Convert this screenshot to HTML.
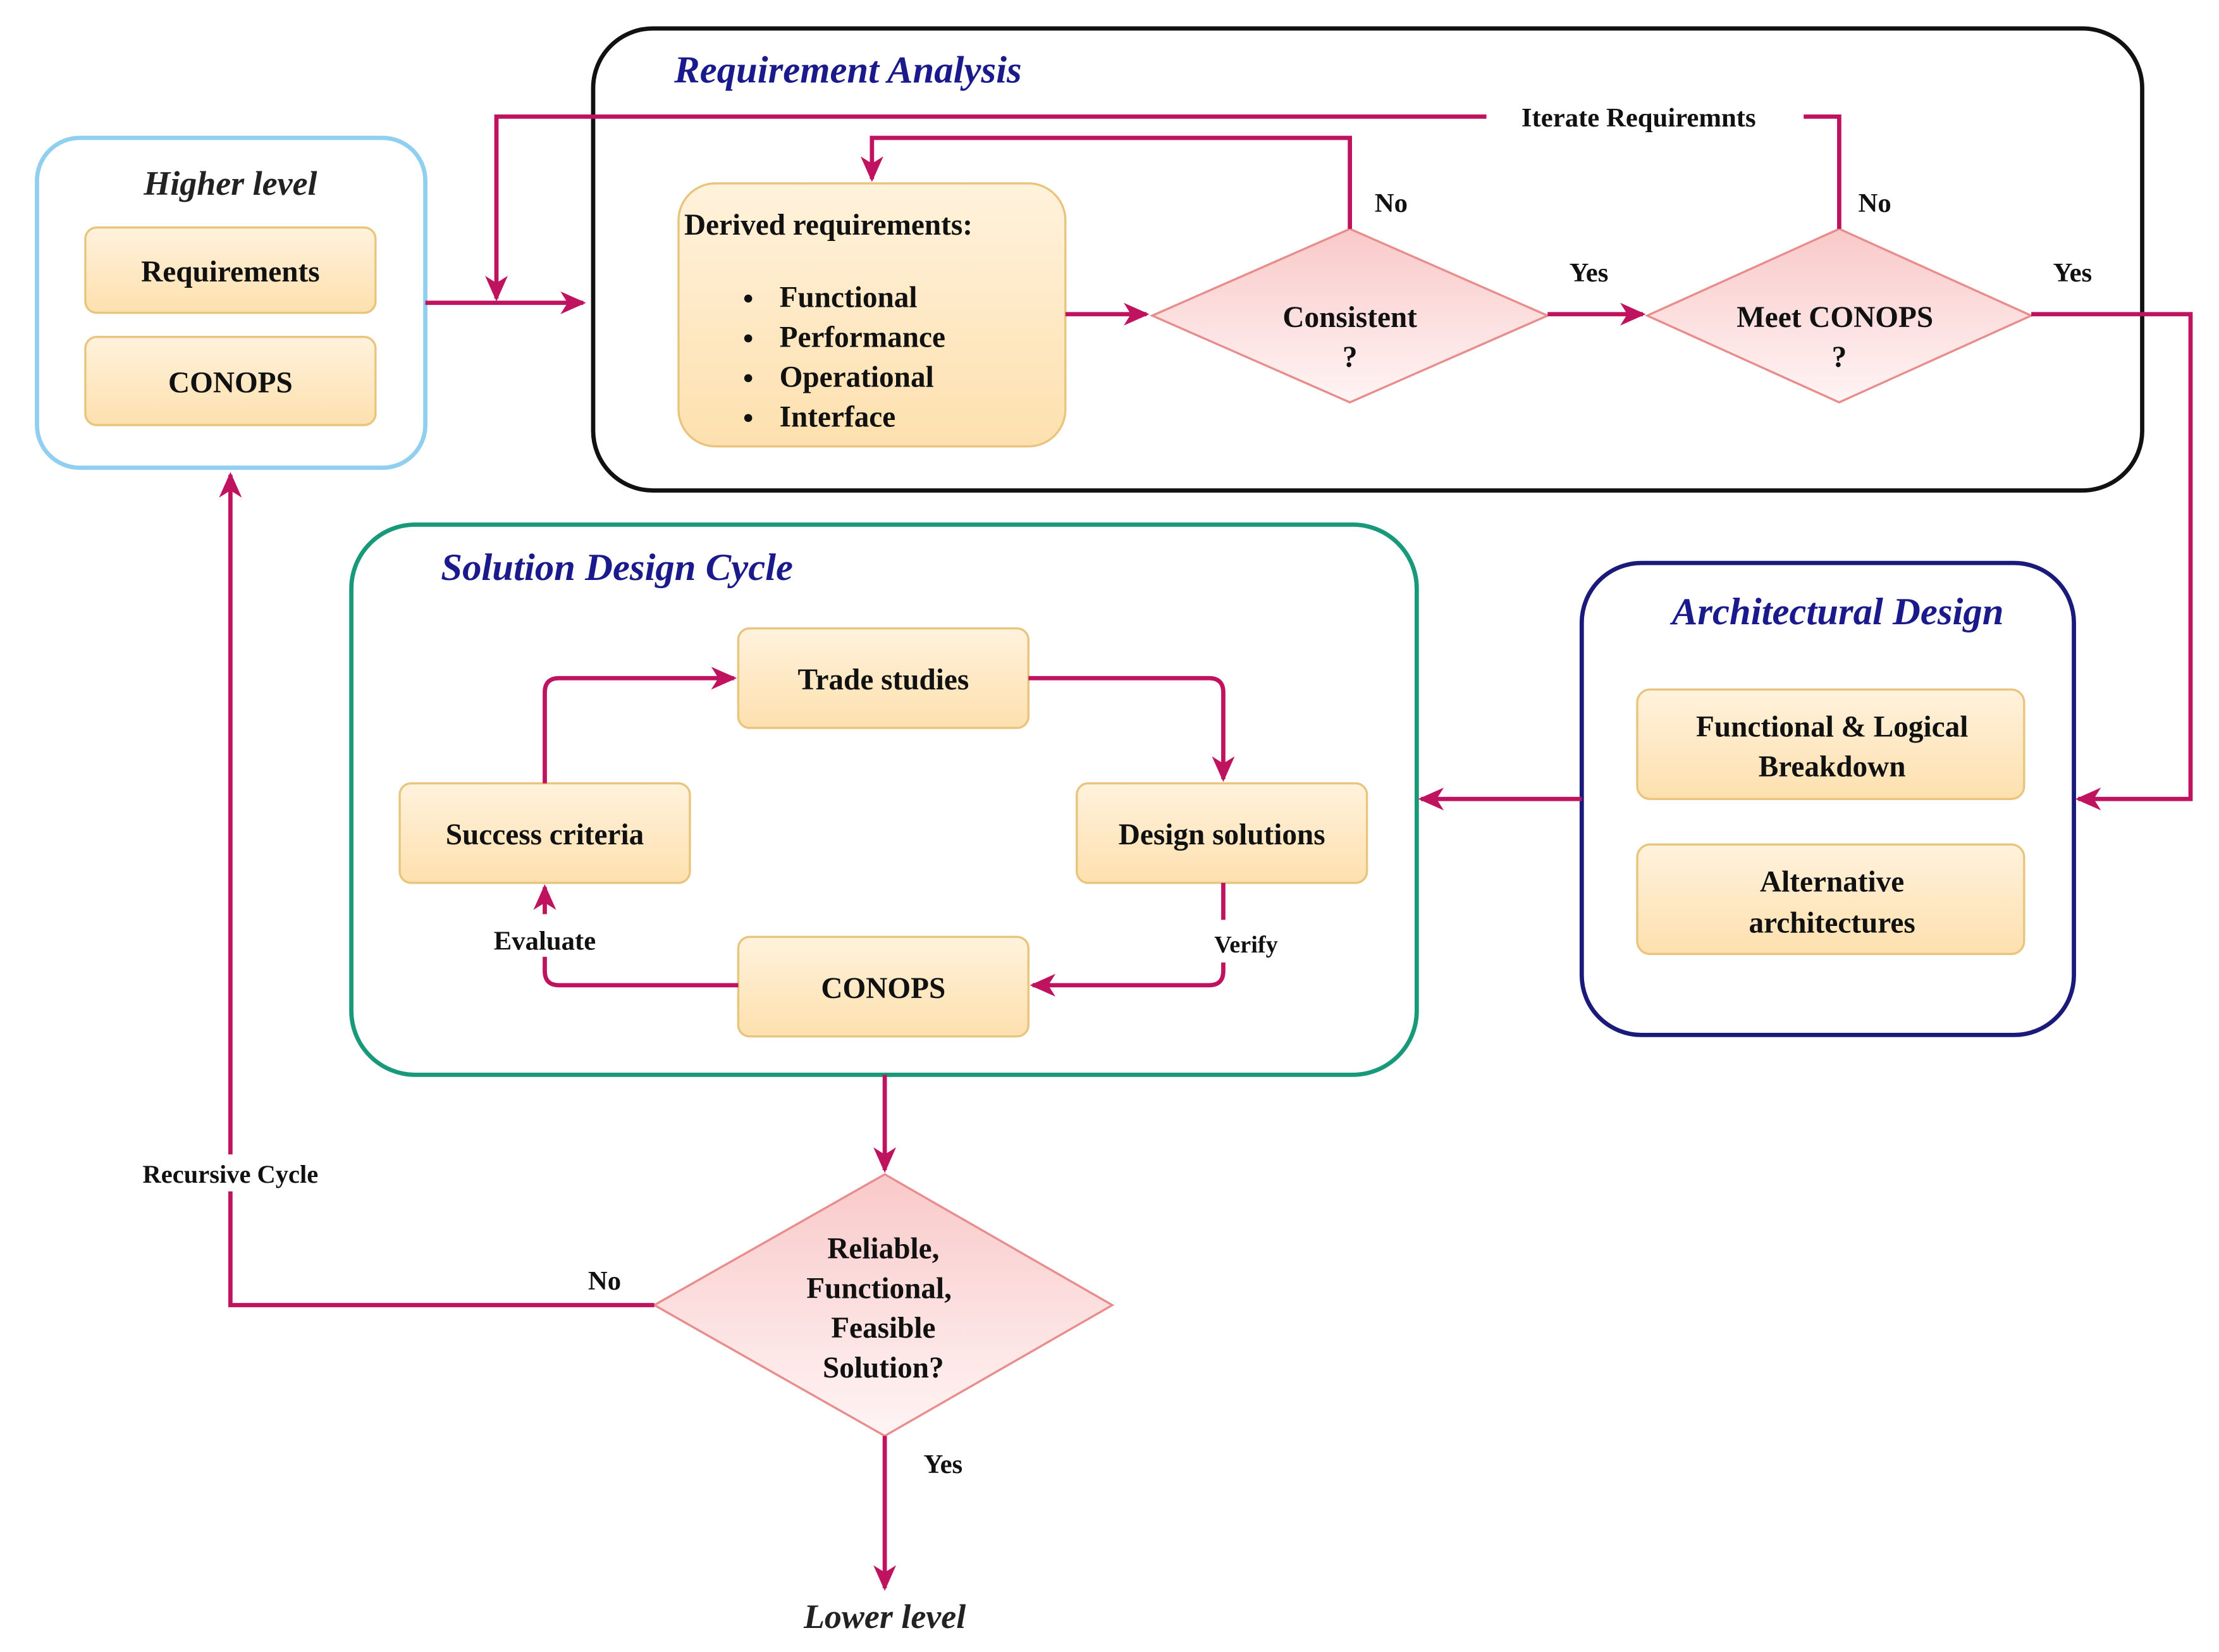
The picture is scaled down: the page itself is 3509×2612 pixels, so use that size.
<!DOCTYPE html>
<html><head><meta charset="utf-8"><style>
html,body{margin:0;padding:0;background:#fff;}
svg{display:block;}
text{font-family:"Liberation Serif","Times New Roman","DejaVu Serif",serif;font-weight:bold;fill:#111;}
.t{font-style:italic;fill:#1a1a8c;font-size:27px;}
</style></head><body>
<svg width="3509" height="2612" viewBox="0 0 1560 1162" preserveAspectRatio="none" xmlns="http://www.w3.org/2000/svg" font-family="Liberation Serif, Times New Roman, DejaVu Serif, serif">
<defs>
<linearGradient id="y" x1="0" y1="0" x2="0" y2="1"><stop offset="0" stop-color="#fff2dc"/><stop offset="1" stop-color="#fde0ae"/></linearGradient>
<linearGradient id="p" x1="0" y1="0" x2="0" y2="1"><stop offset="0" stop-color="#f9c9c9"/><stop offset="1" stop-color="#fff4f4"/></linearGradient>
<marker id="A" markerWidth="18" markerHeight="18" refX="16" refY="9" orient="auto" markerUnits="userSpaceOnUse" viewBox="0 0 18 18"><path d="M0,1 L18,9 L0,17 L5,9 z" fill="#c0135f"/></marker>
</defs>
<g fill="none" stroke-width="3">
<rect x="26" y="97" width="273" height="232" rx="30" stroke="#90cff0"/>
<rect x="417" y="20" width="1089" height="325" rx="42" stroke="#111"/>
<rect x="1112" y="396" width="346" height="332" rx="42" stroke="#1a1a7a"/>
<rect x="247" y="369" width="749" height="387" rx="45" stroke="#17997a"/>
</g>
<g fill="url(#y)" stroke="#e8c47c" stroke-width="1.5">
<rect x="60" y="160" width="204" height="60" rx="8"/>
<rect x="60" y="237" width="204" height="62" rx="8"/>
<rect x="477" y="129" width="272" height="185" rx="26"/>
<rect x="1151" y="485" width="272" height="77" rx="9"/>
<rect x="1151" y="594" width="272" height="77" rx="9"/>
<rect x="519" y="442" width="204" height="70" rx="8"/>
<rect x="281" y="551" width="204" height="70" rx="8"/>
<rect x="757" y="551" width="204" height="70" rx="8"/>
<rect x="519" y="659" width="204" height="70" rx="8"/>
</g>
<g fill="url(#p)" stroke="#e88c8c" stroke-width="1.5">
<polygon points="810,222 949,161 1088,222 949,283"/>
<polygon points="1158,222 1293,161 1428,222 1293,283"/>
<polygon points="460,918 622,826 782,918 622,1010"/>
</g>
<g fill="none" stroke="#c0135f" stroke-width="3">
<path d="M1293,161 V82 H1268"/>
<path d="M1045,82 H349 V210" marker-end="url(#A)"/>
<path d="M299,213 H410" marker-end="url(#A)"/>
<path d="M949,161 V97 H613 V126" marker-end="url(#A)"/>
<path d="M749,221 H806" marker-end="url(#A)"/>
<path d="M1088,221 H1155" marker-end="url(#A)"/>
<path d="M1428,221 H1540 V562 H1461" marker-end="url(#A)"/>
<path d="M1112,562 H999" marker-end="url(#A)"/>
<path d="M383,551 V487 Q383,477 393,477 H516" marker-end="url(#A)"/>
<path d="M723,477 H850 Q860,477 860,487 V548" marker-end="url(#A)"/>
<path d="M860,621 V683 Q860,693 850,693 H726" marker-end="url(#A)"/>
<path d="M519,693 H393 Q383,693 383,683 V624" marker-end="url(#A)"/>
<path d="M622,756 V823" marker-end="url(#A)"/>
<path d="M460,918 H162 V334" marker-end="url(#A)"/>
<path d="M622,1010 V1117" marker-end="url(#A)"/>
</g>
<rect x="330" y="643" width="106" height="30" fill="#fff"/>
<rect x="845" y="647" width="64" height="30" fill="#fff"/>
<rect x="78" y="812" width="168" height="26" fill="#fff"/>
<text class="t" x="162" y="137" text-anchor="middle" style="fill:#222;font-size:24px">Higher level</text>
<text class="t" x="474" y="58">Requirement Analysis</text>
<text class="t" x="1292" y="439" text-anchor="middle">Architectural Design</text>
<text class="t" x="310" y="408">Solution Design Cycle</text>
<text class="t" x="622" y="1145" text-anchor="middle" style="fill:#222;font-size:24px">Lower level</text>
<g font-size="21" text-anchor="middle">
<text x="162" y="198">Requirements</text>
<text x="162" y="276">CONOPS</text>
<text x="949" y="230">Consistent</text>
<text x="949" y="258">?</text>
<text x="1290" y="230">Meet CONOPS</text>
<text x="1293" y="258">?</text>
<text x="1288" y="518">Functional &amp; Logical</text>
<text x="1288" y="546">Breakdown</text>
<text x="1288" y="627">Alternative</text>
<text x="1288" y="656">architectures</text>
<text x="621" y="485">Trade studies</text>
<text x="383" y="594">Success criteria</text>
<text x="859" y="594">Design solutions</text>
<text x="621" y="702">CONOPS</text>
<text x="621" y="885">Reliable,</text>
<text x="618" y="913">Functional,</text>
<text x="621" y="941">Feasible</text>
<text x="621" y="969">Solution?</text>
</g>
<g font-size="21">
<text x="481" y="165">Derived requirements:</text>
<text x="548" y="216">Functional</text>
<text x="548" y="244">Performance</text>
<text x="548" y="272">Operational</text>
<text x="548" y="300">Interface</text>
</g>
<g fill="#111"><circle cx="526" cy="210" r="2.8"/><circle cx="526" cy="238" r="2.8"/><circle cx="526" cy="266" r="2.8"/><circle cx="526" cy="294" r="2.8"/></g>
<g font-size="19" text-anchor="middle">
<text x="1152" y="89">Iterate Requiremnts</text>
<text x="978" y="149">No</text>
<text x="1318" y="149">No</text>
<text x="1117" y="198">Yes</text>
<text x="1457" y="198">Yes</text>
<text x="383" y="668">Evaluate</text>
<text x="876" y="670" font-size="17">Verify</text>
<text x="425" y="907">No</text>
<text x="663" y="1036">Yes</text>
</g>
<text x="162" y="832" font-size="18" text-anchor="middle">Recursive Cycle</text>
</svg>
</body></html>
